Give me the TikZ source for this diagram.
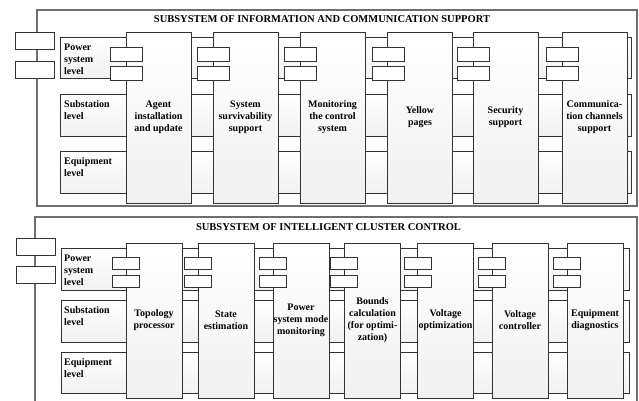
\documentclass[tikz,border=0pt]{standalone}
\usepackage{fontspec}
\setmainfont{Liberation Serif}
\usetikzlibrary{positioning}
\definecolor{lnblack}{HTML}{333333}
\definecolor{frgray}{HTML}{6E6E6E}
\definecolor{shgray}{HTML}{F1F1F1}

\begin{document}
\begin{tikzpicture}[x=1pt, y=-1pt,
  frame/.style={draw=frgray, line width=1.3pt},
  tab/.style={draw=lnblack, line width=0.8pt, fill=white, inner sep=0pt, minimum width=39pt, minimum height=17pt},
  levelrow/.style={draw=lnblack, line width=0.8pt, top color=white, bottom color=shgray},
  leveltext/.style={font=\bfseries\fontsize{10}{12}\selectfont, align=left, anchor=north west, inner sep=0pt},
  block/.style={draw=lnblack, line width=0.8pt, top color=white, bottom color=shgray, inner sep=0pt, font=\bfseries\fontsize{10}{12}\selectfont, align=center},
  bigport/.style={draw=lnblack, line width=0.8pt, fill=white, inner sep=0pt, minimum width=32pt, minimum height=14pt},
  smallport/.style={draw=lnblack, line width=0.8pt, fill=white, inner sep=0pt, minimum width=27pt, minimum height=12pt},
  title/.style={font=\bfseries\fontsize{10.5}{12}\selectfont, inner sep=0pt}]

\useasboundingbox (0,0) rectangle (639,401);
\fill[white] (0,0) rectangle (639,401);

% Upper subsystem
\draw[frame] (37,10) rectangle (637,206);
\node[title] (infotitle) at (322,19) {SUBSYSTEM OF INFORMATION AND COMMUNICATION SUPPORT};
\node[tab] (infotaba) at (34.5,40.5) {};
\node[tab] (infotabb) at (34.5,69.5) {};

% Levels
\draw[levelrow] (60,37) rectangle (631,78);
\draw[levelrow] (60,94) rectangle (631,136);
\draw[levelrow] (60,151) rectangle (631,193);
\node[leveltext] (infopower) at (64,43.5) {Power\\system\\level};
\node[leveltext] (infosub) at (64,100.5) {Substation\\level};
\node[leveltext] (infoequip) at (64,157.5) {Equipment\\level};

% Components
\node[block, minimum width=65pt, minimum height=171pt] (agent) at (158.5,117.5) {Agent\\installation\\and update};
\node[block, minimum width=65pt, minimum height=171pt] (survive) at (245.5,117.5) {System\\survivability\\support};
\node[block, minimum width=65pt, minimum height=171pt] (monitor) at (332.5,117.5) {Monitoring\\the control\\system};
\node[block, minimum width=65pt, minimum height=171pt] (yellow) at (420,117.5) {Yellow\\pages};
\node[block, minimum width=65pt, minimum height=171pt] (security) at (505.5,117.5) {Security\\support};
\node[block, minimum width=65pt, minimum height=171pt] (channels) at (594.5,117.5) {Communica-\\tion channels\\support};

% Ports
\node[bigport] (agentpa) at (126,54) {};
\node[bigport] (agentpb) at (126,73.5) {};
\node[bigport] (survivepa) at (213,54) {};
\node[bigport] (survivepb) at (213,73.5) {};
\node[bigport] (monitorpa) at (300,54) {};
\node[bigport] (monitorpb) at (300,73.5) {};
\node[bigport] (yellowpa) at (388,54) {};
\node[bigport] (yellowpb) at (388,73.5) {};
\node[bigport] (securitypa) at (473,54) {};
\node[bigport] (securitypb) at (473,73.5) {};
\node[bigport] (channelspa) at (562,54) {};
\node[bigport] (channelspb) at (562,73.5) {};

% Lower subsystem
\draw[frame] (35,405) -- (35,217) -- (637,217) -- (637,405);
\node[title] (clustertitle) at (328.5,227) {SUBSYSTEM OF INTELLIGENT CLUSTER CONTROL};
\node[tab] (clustertaba) at (35.5,247) {};
\node[tab] (clustertabb) at (35.5,274.5) {};

% Levels
\draw[levelrow] (61,248) rectangle (629,290);
\draw[levelrow] (61,300) rectangle (629,342);
\draw[levelrow] (61,352) rectangle (629,393);
\node[leveltext] (clusterpower) at (64,254.5) {Power\\system\\level};
\node[leveltext] (clustersub) at (64,306.5) {Substation\\level};
\node[leveltext] (clusterequip) at (64,358.5) {Equipment\\level};

% Components
\node[block, minimum width=56pt, minimum height=155pt] (topo) at (154,320.5) {Topology\\processor};
\node[block, minimum width=56pt, minimum height=155pt] (state) at (226,320.5) {State\\estimation};
\node[block, minimum width=56pt, minimum height=155pt] (mode) at (301,320.5) {Power\\system mode\\monitoring};
\node[block, minimum width=56pt, minimum height=155pt] (bounds) at (372.5,320.5) {Bounds\\calculation\\(for optimi-\\zation)};
\node[block, minimum width=56pt, minimum height=155pt] (voltopt) at (445.5,320.5) {Voltage\\optimization};
\node[block, minimum width=56pt, minimum height=155pt] (voltctrl) at (520,320.5) {Voltage\\controller};
\node[block, minimum width=56pt, minimum height=155pt] (diag) at (595,320.5) {Equipment\\diagnostics};

% Ports
\node[smallport] (topopa) at (125.5,263) {};
\node[smallport] (topopb) at (125.5,281.5) {};
\node[smallport] (statepa) at (197.5,263) {};
\node[smallport] (statepb) at (197.5,281.5) {};
\node[smallport] (modepa) at (272.5,263) {};
\node[smallport] (modepb) at (272.5,281.5) {};
\node[smallport] (boundspa) at (343.5,263) {};
\node[smallport] (boundspb) at (343.5,281.5) {};
\node[smallport] (voltoptpa) at (417.5,263) {};
\node[smallport] (voltoptpb) at (417.5,281.5) {};
\node[smallport] (voltctrlpa) at (491.5,263) {};
\node[smallport] (voltctrlpb) at (491.5,281.5) {};
\node[smallport] (diagpa) at (566.5,263) {};
\node[smallport] (diagpb) at (566.5,281.5) {};

\end{tikzpicture}
\end{document}
